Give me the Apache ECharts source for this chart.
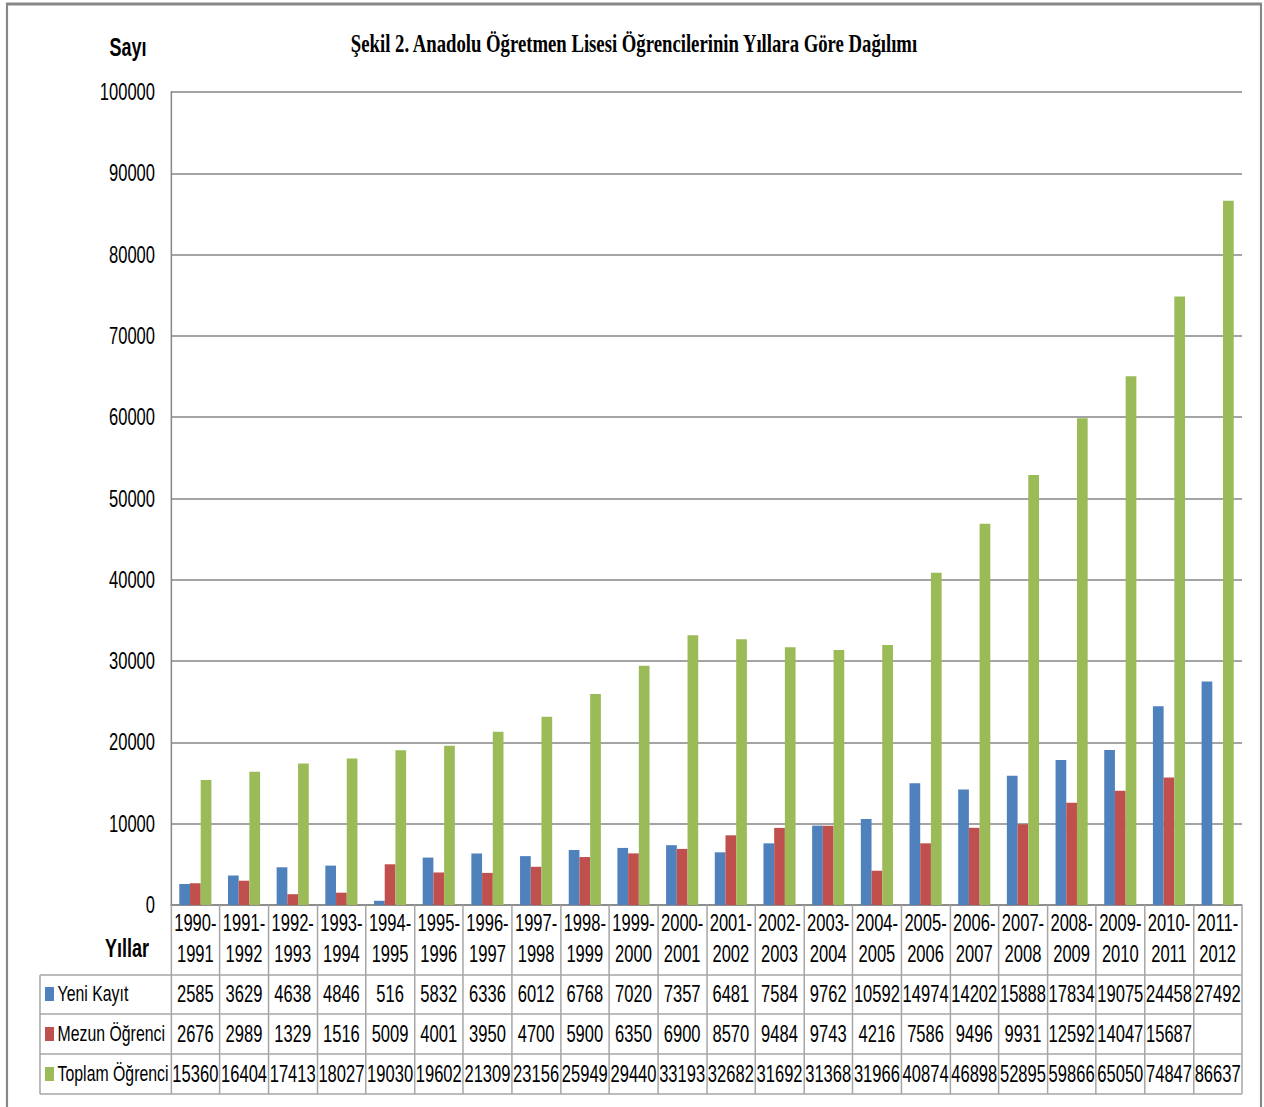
<!DOCTYPE html>
<html><head><meta charset="utf-8">
<script src="https://cdn.jsdelivr.net/npm/echarts@6/dist/echarts.min.js"></script>
<style>
html,body{margin:0;padding:0;background:#fff;overflow:hidden;width:1264px;height:1107px}
#wrap{width:1264px;height:1107px;overflow:hidden;position:relative}
#c{position:absolute;left:0;top:0;height:1107px;transform-origin:0 0}
</style>
</head><body><div id="wrap"><div id="c"></div></div>
<script>
const categories = ['1990-1991','1991-1992','1992-1993','1993-1994','1994-1995','1995-1996','1996-1997','1997-1998','1998-1999','1999-2000','2000-2001','2001-2002','2002-2003','2003-2004','2004-2005','2005-2006','2006-2007','2007-2008','2008-2009','2009-2010','2010-2011','2011-2012'];
const yeniKayit = [2585,3629,4638,4846,516,5832,6336,6012,6768,7020,7357,6481,7584,9762,10592,14974,14202,15888,17834,19075,24458,27492];
const mezunOgrenci = [2676,2989,1329,1516,5009,4001,3950,4700,5900,6350,6900,8570,9484,9743,4216,7586,9496,9931,12592,14047,15687,null];
const toplamOgrenci = [15360,16404,17413,18027,19030,19602,21309,23156,25949,29440,33193,32682,31692,31368,31966,40874,46898,52895,59866,65050,74847,86637];
const seriesNames = ['Yeni Kayıt','Mezun Öğrenci','Toplam Öğrenci'];
const seriesColors = ['#4F81BD','#C0504D','#9BBB59'];
const yMin = 0, yMax = 100000, yInterval = 10000;
const titleText = 'Şekil 2. Anadolu Öğretmen Lisesi Öğrencilerinin Yıllara Göre Dağılımı';
const yName = 'Sayı';
const xName = 'Yıllar';

// The reference is horizontally condensed: draw wide, then squeeze with CSS.
const S = 0.72;
const W = 1264, H = 1107;
const WW = W / S;
const el = document.getElementById('c');
el.style.width = WW + 'px';
el.style.transform = 'scaleX(' + S + ')';

const FONT = "'Liberation Sans','DejaVu Sans',sans-serif";
const FS = 23;
const G = {left:171 / S, right:22 / S, top:92, bottom:202};
const gx1 = WW - G.right, gy0 = H - G.bottom;
const rowLines = [975, 1014, 1054, 1094];
const tableLeft = 40 / S;
const lineCol = '#a6a6a6';
const vW = 1.5 / S; // vertical line width compensation

const chart = echarts.init(el, null, {renderer:'svg', width:WW, height:H});

const rowData = [yeniKayit, mezunOgrenci, toplamOgrenci];
const tableAxes = rowData.map((arr, k) => ({
  type:'category', data:categories, gridIndex:0, position:'bottom', offset:79 + 40 * k,
  axisLine:{show:false}, axisTick:{show:false}, splitLine:{show:false},
  axisLabel:{interval:0, margin:0, fontFamily:FONT, fontSize:FS, lineHeight:20, color:'#000',
    formatter:(v, i) => (arr[i] == null ? '' : String(arr[i]))}
}));

const graphics = [];
graphics.push({type:'polyline', shape:{points:[[7 / S, H], [7 / S, 4], [1261 / S, 4], [1261 / S, H]]}, style:{stroke:'#878787', lineWidth:3, fill:null}, silent:true});
rowLines.forEach(y => graphics.push({type:'line', shape:{x1:tableLeft, y1:y, x2:gx1, y2:y}, style:{stroke:lineCol, lineWidth:1.5}, silent:true}));
graphics.push({type:'line', shape:{x1:tableLeft, y1:rowLines[0], x2:tableLeft, y2:rowLines[3]}, style:{stroke:lineCol, lineWidth:vW}, silent:true});
graphics.push({type:'text', x:634 / S, y:43, style:{text:titleText, font:"bold 26px 'Liberation Serif'", textAlign:'center', textVerticalAlign:'middle', fill:'#000'}});
graphics.push({type:'text', x:128 / S, y:47, style:{text:yName, font:"bold 25px " + FONT, textAlign:'center', textVerticalAlign:'middle', fill:'#000'}});
graphics.push({type:'text', x:127 / S, y:948, style:{text:xName, font:"bold 25px " + FONT, textAlign:'center', textVerticalAlign:'middle', fill:'#000'}});

const option = {
  animation:false,
  backgroundColor:'#fff',
  color:seriesColors,
  grid:{left:G.left, right:G.right, top:G.top, bottom:G.bottom, containLabel:false},
  legend:{orient:'vertical', left:45 / S, top:983, itemGap:18, itemWidth:9 / S, itemHeight:14, icon:'rect', padding:0,
    textStyle:{fontFamily:FONT, fontSize:22, lineHeight:22, color:'#000'}, data:seriesNames, selectedMode:false},
  xAxis:[{
    type:'category', data:categories, gridIndex:0, position:'bottom',
    axisLine:{lineStyle:{color:'#868686', width:1.5}},
    axisTick:{show:true, interval:0, length:rowLines[3] - gy0, lineStyle:{color:lineCol, width:vW}},
    axisLabel:{interval:0, margin:2, fontFamily:FONT, fontSize:FS, lineHeight:31, color:'#000',
      formatter:v => v.replace('-', '-\n')}
  }].concat(tableAxes),
  yAxis:{type:'value', min:yMin, max:yMax, interval:yInterval,
    axisLine:{show:true, lineStyle:{color:'#868686', width:vW}}, axisTick:{show:false},
    splitLine:{lineStyle:{color:'#868686', width:1.5}},
    axisLabel:{margin:16 / S, fontFamily:FONT, fontSize:FS, color:'#000', formatter:v => String(v)}},
  series:[
    {name:seriesNames[0], type:'bar', data:yeniKayit, barGap:'0%', barCategoryGap:'34%'},
    {name:seriesNames[1], type:'bar', data:mezunOgrenci, barGap:'0%', barCategoryGap:'34%'},
    {name:seriesNames[2], type:'bar', data:toplamOgrenci, barGap:'0%', barCategoryGap:'34%'}
  ],
  graphic:graphics
};
chart.setOption(option);
</script></body></html>
